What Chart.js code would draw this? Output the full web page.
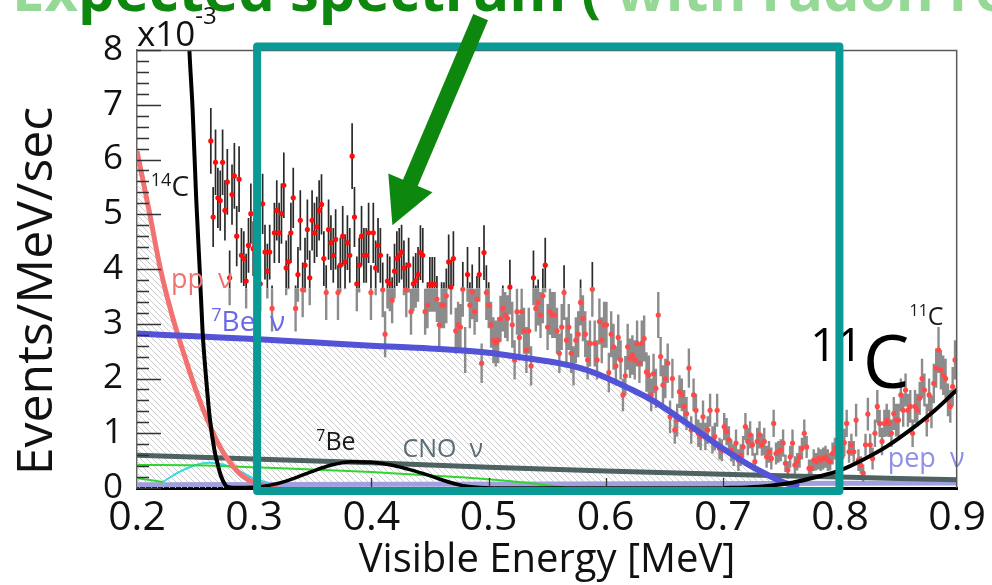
<!DOCTYPE html>
<html>
<head>
<meta charset="utf-8">
<script src="https://cdn.jsdelivr.net/npm/chart.js@4.4.1/dist/chart.umd.min.js"></script>
<style>
  html, body { margin: 0; padding: 0; background: #fff; }
  #wrap { width: 992px; height: 585px; }
</style>
</head>
<body>
<div id="wrap"><canvas id="spectrumChart" width="992" height="585"></canvas></div>
<script>
// measured spectrum: bins start at binStart, width binWidth (MeV), rate in 1e-3 events/MeV/sec
const binStart = 0.263;
const binWidth = 0.00201;
const counts = [
  6.34, 4.95, 5.95, 5.30, 5.25, 5.95, 5.07, 5.59, 3.84, 5.36,
  5.70, 4.60, 5.64, 4.25, 4.19, 3.78, 4.43, 5.01, 4.37, 4.90,
  4.60, 3.73, 5.19, 4.31, 3.96, 4.31, 3.28, 4.66, 5.07, 4.66,
  5.01, 5.53, 4.02, 4.13, 4.66, 5.30, 3.28, 3.90, 4.89, 3.62,
  4.07, 4.72, 3.84, 4.89, 4.66, 4.77, 5.07, 5.18, 4.19, 3.57,
  4.72, 4.48, 4.25, 4.54, 3.57, 4.07, 4.60, 4.13, 4.48, 4.25,
  6.06, 4.95, 3.73, 4.07, 4.60, 4.25, 4.25, 4.66, 3.57, 4.66,
  4.02, 4.43, 4.25, 3.62, 2.81, 3.78, 3.73, 3.43, 3.96, 4.19,
  4.25, 4.31, 4.02, 3.62, 4.07, 3.22, 3.73,
  3.79, 3.90, 4.30, 4.25, 3.22, 3.34, 3.72, 3.72, 3.72, 3.45,
  2.98, 3.34, 3.34, 3.51, 4.13, 3.67, 4.19, 2.87, 2.98, 2.94,
  3.63, 2.52, 3.90, 3.34, 3.58, 3.22, 3.45, 3.90, 2.28, 4.30,
  3.57, 3.34, 2.98, 2.70, 2.64, 2.70, 3.09, 3.28, 3.16, 3.10,
  3.67, 2.98, 2.34, 3.22, 2.75, 3.22, 2.87, 2.52, 2.87, 2.23,
  3.84, 3.28, 3.39, 3.16, 3.51, 4.07, 2.94, 3.22, 3.16, 3.16,
  2.87, 2.46, 2.94, 3.57, 2.70, 2.94, 2.46, 2.23, 2.70, 2.81,
  3.39, 3.10, 2.81, 2.34, 2.64, 3.63, 2.64, 2.34, 3.04, 2.70,
  2.98, 2.98, 2.11, 2.81, 2.58, 2.23, 2.75, 2.34, 1.70, 2.05,
  2.58,
  2.37, 2.43, 2.34, 2.64, 2.28, 2.64, 2.73, 2.12, 2.06, 1.70,
  2.09, 1.82, 3.16, 2.40, 1.88, 2.00, 2.28, 1.30, 2.00, 1.06,
  1.24, 1.76, 1.70, 1.49, 1.36, 2.19, 1.06, 1.70, 1.42, 1.00,
  0.94, 1.30, 0.94, 1.06, 1.42, 0.88, 0.94, 1.42, 0.72, 0.69,
  1.12, 1.03, 0.88, 0.69, 0.60, 0.82, 0.51, 0.60, 0.75, 1.12,
  0.85, 0.97, 0.79, 0.48, 0.85, 0.97, 0.79, 0.85, 0.57, 0.66,
  0.54, 1.18, 0.63, 0.66, 0.69, 0.82, 0.45, 0.33, 0.57, 0.82,
  0.42, 0.48, 0.57, 0.72, 1.00, 0.75, 0.36, 0.36, 0.51, 0.48,
  0.54, 0.51, 0.54, 0.57, 0.51, 0.48, 0.63, 0.72,
  0.72, 0.62, 0.57, 0.83, 1.18, 0.66, 0.79, 0.66, 1.24, 0.51,
  0.42, 0.27, 0.79, 1.35, 0.79, 0.54, 1.00, 1.49, 1.18, 0.85,
  1.18, 1.24, 1.18, 1.00, 1.36, 1.24, 1.24, 1.70, 1.42, 1.79,
  1.42, 1.49, 1.00, 1.49, 1.42, 1.64, 2.00, 1.79, 1.24, 1.70,
  1.39, 1.91, 2.19, 2.52, 2.16, 2.06, 2.00, 1.61, 1.49, 1.85,
  2.34
];
const countErrors = [
  .60, .55, .60, .55, .55, .60, .55, .60, .50, .55,
  .60, .55, .60, .50, .50, .50, .50, .55, .50, .55,
  .55, .50, .55, .50, .50, .50, .42, .55, .55, .55,
  .55, .60, .50, .50, .55, .55, .42, .50, .55, .50,
  .50, .55, .50, .55, .55, .55, .55, .55, .50, .50,
  .55, .50, .50, .55, .50, .50, .55, .50, .50, .50,
  .60, .55, .50, .50, .55, .50, .50, .55, .50, .55,
  .50, .50, .50, .50, .42, .50, .50, .42, .50, .50,
  .50, .50, .50, .50, .50, .42, .50,
  .50, .50, .50, .50, .42, .42, .50, .50, .50, .42,
  .42, .42, .42, .50, .50, .50, .50, .42, .42, .42,
  .50, .42, .50, .42, .50, .42, .42, .50, .36, .50,
  .50, .42, .42, .42, .42, .42, .42, .42, .42, .42,
  .50, .42, .36, .42, .42, .42, .42, .42, .42, .36,
  .50, .42, .42, .42, .50, .50, .42, .42, .42, .42,
  .42, .36, .42, .50, .42, .42, .36, .36, .42, .42,
  .42, .42, .42, .36, .42, .50, .42, .36, .42, .42,
  .42, .42, .36, .42, .42, .36, .42, .36, .30, .36,
  .42,
  .36, .36, .36, .42, .36, .42, .42, .36, .36, .30,
  .36, .36, .42, .36, .36, .36, .36, .30, .36, .25,
  .30, .30, .30, .30, .30, .36, .25, .30, .30, .25,
  .25, .30, .25, .25, .30, .25, .25, .30, .20, .20,
  .25, .25, .25, .20, .20, .25, .20, .20, .20, .25,
  .25, .25, .20, .16, .25, .25, .20, .25, .20, .20,
  .20, .25, .20, .20, .20, .25, .16, .16, .20, .25,
  .16, .16, .20, .20, .25, .20, .16, .16, .20, .16,
  .20, .20, .20, .20, .20, .16, .20, .20,
  .20, .20, .20, .25, .25, .20, .20, .20, .30, .20,
  .16, .16, .20, .30, .20, .20, .25, .30, .25, .25,
  .25, .30, .25, .25, .30, .30, .30, .30, .30, .30,
  .30, .30, .25, .30, .30, .30, .36, .30, .30, .30,
  .30, .36, .36, .42, .36, .36, .36, .30, .30, .36,
  .36
];

const xTickValues = [0.2, 0.3, 0.4, 0.5, 0.6, 0.7, 0.8, 0.9];
const xTickLabels = ['0.2', '0.3', '0.4', '0.5', '0.6', '0.7', '0.8', '0.9'];
const yTickValues = [0, 1, 2, 3, 4, 5, 6, 7, 8];
const yTickLabels = ['0', '1', '2', '3', '4', '5', '6', '7', '8'];

// fitted components
const c14E = [0.2430, 0.2445, 0.2475, 0.2505, 0.2535, 0.2560, 0.2590, 0.2620, 0.2660, 0.2695, 0.2720, 0.2760, 0.2800];
const c14Rate = [9.0, 8.1, 6.9, 5.3, 4.0, 2.85, 2.0, 1.3, 0.7, 0.38, 0.2, 0.04, 0.01];
const shoulderE = [0.280, 0.304, 0.3265, 0.349, 0.366, 0.383, 0.400, 0.4167, 0.4336, 0.4505, 0.4674, 0.4787, 0.4927, 0.52, 0.60, 0.70];
const shoulderRate = [0.01, 0.02, 0.12, 0.30, 0.42, 0.48, 0.47, 0.42, 0.33, 0.22, 0.10, 0.04, 0.01, 0.0, 0.0, 0.0];
const c11E = [0.70, 0.72, 0.74, 0.76, 0.78, 0.80, 0.82, 0.84, 0.86, 0.88, 0.90];
const c11Rate = [0.0, 0.01, 0.04, 0.10, 0.20, 0.32, 0.52, 0.76, 1.06, 1.40, 1.80];
const ppE = [0.20, 0.21, 0.22, 0.23, 0.24, 0.25, 0.26, 0.27, 0.28, 0.29, 0.30, 0.31, 0.32];
const ppRate = [6.15, 5.1, 4.0, 3.15, 2.45, 1.8, 1.25, 0.78, 0.45, 0.22, 0.10, 0.04, 0.0];
const be7E = [0.20, 0.25, 0.30, 0.35, 0.40, 0.45, 0.50, 0.53, 0.56, 0.58, 0.60, 0.62, 0.64, 0.66, 0.68, 0.70, 0.72, 0.74, 0.75, 0.76, 0.765];
const be7Rate = [2.82, 2.77, 2.72, 2.66, 2.60, 2.55, 2.47, 2.38, 2.28, 2.18, 2.02, 1.82, 1.60, 1.32, 1.02, 0.72, 0.45, 0.22, 0.12, 0.05, 0.02];
const cnoE = [0.2, 0.3, 0.4, 0.5, 0.6, 0.7, 0.8, 0.9];
const cnoRate = [0.60, 0.53, 0.46, 0.38, 0.31, 0.25, 0.20, 0.15];
const pepE = [0.2, 0.9];
const pepRate = [0.06, 0.09];
const greenE = [0.20, 0.26, 0.30, 0.35, 0.40, 0.45, 0.50, 0.53, 0.565];
const greenRate = [0.42, 0.41, 0.38, 0.34, 0.29, 0.23, 0.16, 0.10, 0.01];
const lowGreenE = [0.20, 0.222];
const lowGreenRate = [0.18, 0.11];
const cyanE = [0.222, 0.235, 0.25, 0.262, 0.275, 0.29, 0.30, 0.312];
const cyanRate = [0.11, 0.28, 0.42, 0.46, 0.42, 0.28, 0.17, 0.10];

// overlay marks, in data coordinates
const boxE = [0.3025, 0.7995];
const boxRate = [-0.055, 8.065];
const arrowE = [0.4933, 0.418];
const arrowRate = [8.6, 4.8];

const FONT = '"Open Sans", "DejaVu Sans", sans-serif';

const curveLabels = [
  { sup: '14', text: 'C', e: 0.2118, r: 5.33, size: 28, supSize: 18, color: '#1a1a1a' },
  { sup: '', text: 'pp  ν', e: 0.2290, r: 3.65, size: 27, supSize: 16, color: '#f07272' },
  { sup: '7', text: 'Be  ν', e: 0.2634, r: 2.87, size: 28, supSize: 18, color: '#6a6ae6' },
  { sup: '7', text: 'Be', e: 0.353, r: 0.69, size: 25, supSize: 16, color: '#1a1a1a' },
  { sup: '', text: 'CNO  ν', e: 0.4265, r: 0.57, size: 25, supSize: 16, color: '#5a6c76' },
  { sup: '11', text: 'C', e: 0.8593, r: 2.98, size: 25, supSize: 16, color: '#1a1a1a' },
  { sup: '', text: 'pep  ν', e: 0.8407, r: 0.38, size: 27, supSize: 16, color: '#8f8fe6' }
];
const bigLabel = { sup: '11', text: 'C', e: 0.7745, r: 1.83, size: 74, supSize: 46, color: '#000' };

const pts = (es, rs) => es.map((e, i) => ({ x: e, y: rs[i] }));

function drawSup(ctx, x, y, lab) {
  ctx.fillStyle = lab.color;
  ctx.textAlign = 'left';
  ctx.textBaseline = 'alphabetic';
  let w = 0;
  if (lab.sup) {
    ctx.font = lab.supSize + 'px ' + FONT;
    ctx.fillText(lab.sup, x, y - lab.size * 0.36);
    w = ctx.measureText(lab.sup).width;
  }
  ctx.font = lab.size + 'px ' + FONT;
  ctx.fillText(lab.text, x + w, y);
}

const canvas = document.getElementById('spectrumChart');
const ctx0 = canvas.getContext('2d');

// light diagonal hatch used under pp and 7Be
const tile = document.createElement('canvas');
tile.width = 6; tile.height = 6;
const tg = tile.getContext('2d');
tg.strokeStyle = '#cdcdcd';
tg.lineWidth = 1;
tg.beginPath();
tg.moveTo(-1, -1); tg.lineTo(7, 7);
tg.moveTo(-1, 5); tg.lineTo(1, 7);
tg.moveTo(5, -1); tg.lineTo(7, 1);
tg.stroke();
const hatch = ctx0.createPattern(tile, 'repeat');

const DATA_INDEX = 9;

const overlay = {
  id: 'overlay',
  beforeDatasetDraw(chart, args) {
    if (args.index !== DATA_INDEX) return;
    const ctx = chart.ctx, a = chart.chartArea;
    const sx = chart.scales.x, sy = chart.scales.y;
    const split = sy.getPixelForValue(3.65);
    [[a.top, split, '#2a2a2a', 1.7], [split, a.bottom, '#8c8c8c', 2.4]].forEach(([t, b, col, w]) => {
      ctx.save();
      ctx.beginPath();
      ctx.rect(a.left, t, a.right - a.left, b - t);
      ctx.clip();
      ctx.strokeStyle = col;
      ctx.lineWidth = w;
      ctx.beginPath();
      counts.forEach((v, i) => {
        const x = sx.getPixelForValue(binStart + i * binWidth);
        ctx.moveTo(x, sy.getPixelForValue(v + countErrors[i]));
        ctx.lineTo(x, sy.getPixelForValue(v - countErrors[i]));
      });
      ctx.stroke();
      ctx.restore();
    });
  },
  afterDatasetsDraw(chart) {
    const ctx = chart.ctx;
    const sx = chart.scales.x, sy = chart.scales.y;
    ctx.save();
    curveLabels.forEach(l => drawSup(ctx, sx.getPixelForValue(l.e), sy.getPixelForValue(l.r), l));
    ctx.restore();
  },
  afterDraw(chart) {
    const ctx = chart.ctx, a = chart.chartArea;
    const sx = chart.scales.x, sy = chart.scales.y;
    ctx.save();

    // frame top/right
    ctx.strokeStyle = '#5a5a5a';
    ctx.lineWidth = 1.5;
    ctx.beginPath();
    ctx.moveTo(a.left, a.top + 0.5);
    ctx.lineTo(a.right - 0.5, a.top + 0.5);
    ctx.lineTo(a.right - 0.5, a.bottom);
    ctx.stroke();

    // inward ticks
    ctx.strokeStyle = '#333';
    ctx.lineWidth = 1.3;
    ctx.beginPath();
    for (let k = 0; k <= 40; k++) {
      const y = Math.round(sy.getPixelForValue(k / 5)) + 0.5;
      const len = k % 5 === 0 ? 24 : 12;
      ctx.moveTo(a.left, y);
      ctx.lineTo(a.left + len, y);
    }
    xTickValues.slice(1, -1).forEach(v => {
      const x = Math.round(sx.getPixelForValue(v)) + 0.5;
      ctx.moveTo(x, a.bottom);
      ctx.lineTo(x, a.bottom - 10);
    });
    ctx.stroke();

    // axis titles
    ctx.fillStyle = '#111';
    ctx.textAlign = 'center';
    ctx.textBaseline = 'alphabetic';
    ctx.font = '40px ' + FONT;
    ctx.fillText('Visible Energy [MeV]', (a.left + a.right) / 2, 572);
    ctx.save();
    ctx.translate(52, 291);
    ctx.rotate(-Math.PI / 2);
    ctx.font = '50px ' + FONT;
    ctx.fillText('Events/MeV/sec', 0, 0);
    ctx.restore();

    // exponent
    ctx.textAlign = 'left';
    ctx.font = '35px ' + FONT;
    ctx.fillText('x10', 137, 46);
    const w = ctx.measureText('x10').width;
    ctx.font = '24px ' + FONT;
    ctx.fillText('-3', 137 + w, 24);

    // big 11C
    drawSup(ctx, sx.getPixelForValue(bigLabel.e), sy.getPixelForValue(bigLabel.r), bigLabel);

    // teal box
    ctx.strokeStyle = '#0a9a95';
    ctx.lineWidth = 8;
    ctx.lineJoin = 'round';
    const bx0 = sx.getPixelForValue(boxE[0]), bx1 = sx.getPixelForValue(boxE[1]);
    const by0 = sy.getPixelForValue(boxRate[1]), by1 = sy.getPixelForValue(boxRate[0]);
    ctx.strokeRect(bx0, by0, bx1 - bx0, by1 - by0);

    // green arrow
    const tx = sx.getPixelForValue(arrowE[0]), ty = sy.getPixelForValue(arrowRate[0]);
    const hx = sx.getPixelForValue(arrowE[1]), hy = sy.getPixelForValue(arrowRate[1]);
    const len = Math.hypot(hx - tx, hy - ty);
    const ux = (hx - tx) / len, uy = (hy - ty) / len;
    const headLen = 46, headHalf = 24;
    const bxm = hx - ux * headLen, bym = hy - uy * headLen;
    ctx.strokeStyle = '#0d870d';
    ctx.fillStyle = '#0d870d';
    ctx.lineWidth = 16;
    ctx.lineCap = 'butt';
    ctx.beginPath();
    ctx.moveTo(tx, ty);
    ctx.lineTo(bxm + ux * 2, bym + uy * 2);
    ctx.stroke();
    ctx.beginPath();
    ctx.moveTo(hx, hy);
    ctx.lineTo(bxm - uy * headHalf, bym + ux * headHalf);
    ctx.lineTo(bxm + uy * headHalf, bym - ux * headHalf);
    ctx.closePath();
    ctx.fill();

    // cut-off title at the top
    ctx.font = 'bold 58px ' + FONT;
    ctx.textAlign = 'left';
    let x = 12;
    [['Ex', '#96d896'], ['pected spectrum (', '#0d870d'], [' with radon reduction )', '#96d896']].forEach(([s, c]) => {
      ctx.fillStyle = c;
      ctx.fillText(s, x, 11);
      x += ctx.measureText(s).width;
    });

    ctx.restore();
  }
};

const line = (es, rs, color, width, extra) => Object.assign({
  type: 'line',
  data: pts(es, rs),
  borderColor: color,
  borderWidth: width,
  pointRadius: 0,
  fill: false,
  cubicInterpolationMode: 'monotone'
}, extra || {});

new Chart(canvas, {
  type: 'scatter',
  data: {
    datasets: [
      line(c14E, c14Rate, '#000', 4),
      line(shoulderE, shoulderRate, '#000', 3.5),
      line(c11E, c11Rate, '#000', 4),
      line(be7E, be7Rate, '#5353d8', 6, { fill: 'origin', backgroundColor: hatch }),
      line(ppE, ppRate, '#f27272', 5, { fill: 'origin', backgroundColor: hatch }),
      line(cnoE, cnoRate, '#4e6262', 5),
      line(greenE, greenRate, '#2fd62f', 2),
      line(lowGreenE, lowGreenRate, '#2fd62f', 2),
      line(cyanE, cyanRate, '#33d8ea', 2),
      {
        type: 'scatter',
        data: counts.map((v, i) => ({ x: binStart + i * binWidth, y: v })),
        pointRadius: 2.6,
        pointBorderWidth: 0,
        pointBackgroundColor: c => (c.raw && c.raw.y < 3.65 ? '#ff4a4a' : '#ff0d0d')
      },
      line(pepE, pepRate, '#a0a0de', 5)
    ]
  },
  options: {
    responsive: false,
    animation: false,
    events: [],
    layout: { padding: { top: 50, right: 27, left: 0, bottom: 0 } },
    plugins: {
      legend: { display: false },
      tooltip: { enabled: false },
      filler: { drawTime: 'beforeDatasetsDraw' }
    },
    scales: {
      x: {
        type: 'linear',
        min: 0.2,
        max: 0.9,
        afterBuildTicks: s => { s.ticks = xTickValues.map(v => ({ value: v })); },
        afterFit: s => { s.height = 97; },
        grid: { display: false, drawTicks: false },
        border: { display: true, color: '#000', width: 3 },
        ticks: {
          padding: 6,
          color: '#111',
          font: { family: FONT, size: 41 },
          callback: (v, i) => xTickLabels[i]
        }
      },
      y: {
        type: 'linear',
        min: 0,
        max: 8,
        afterBuildTicks: s => { s.ticks = yTickValues.map(v => ({ value: v })); },
        afterFit: s => { s.width = 137; },
        grid: { display: false, drawTicks: false },
        border: { display: true, color: '#666', width: 1.5 },
        ticks: {
          padding: 14,
          color: '#111',
          font: { family: FONT, size: 35 },
          callback: (v, i) => yTickLabels[i]
        }
      }
    }
  },
  plugins: [overlay]
});
</script>
</body>
</html>
